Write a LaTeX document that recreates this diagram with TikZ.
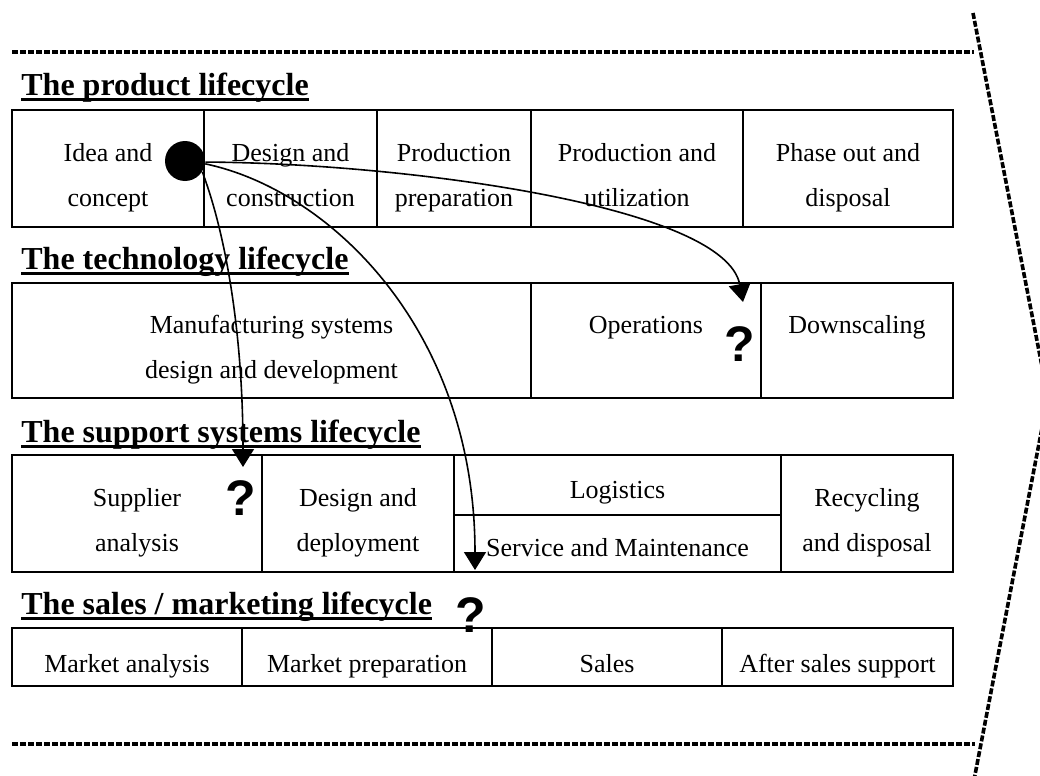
\documentclass[tikz,border=0pt]{standalone}
\usepackage{fontspec}
\setmainfont{Liberation Serif}
\newfontfamily\qfont{Liberation Sans}
\usetikzlibrary{arrows.meta}
\newcommand\cellstrut{\rule[-4.75pt]{0pt}{22.5pt}}
\newcommand\lowstrut{\rule[-4.75pt]{0pt}{24.5pt}}
\newcommand\tallstrut{\rule[-4.75pt]{0pt}{24.5pt}}
\newcommand\twolines[2]{\tallstrut#1\\#2\cellstrut}
\begin{document}
\begin{tikzpicture}[x=0.5pt,y=-0.5pt,
  cell/.style={draw, line width=1pt, rectangle, inner sep=0pt, align=center,
    font=\fontsize{13}{22.5}\selectfont},
  ttl/.style={anchor=base west, inner sep=0pt, font=\fontsize{16}{19}\selectfont\bfseries},
  uline/.style={line width=1.3pt},
  dsh/.style={line width=1.8pt, dash pattern=on 3pt off 1pt},
  conn/.style={line width=0.8pt, -{Triangle[length=9pt,width=11pt]}},
  qm/.style={inner sep=0pt, font=\qfont\bfseries\fontsize{25}{28}\selectfont},
]
\useasboundingbox (0,0) rectangle (1040,776);
% dashed frame
\coordinate (tl) at (12,52);
\coordinate (tr) at (974,52);
\coordinate (bl) at (12,744);
\coordinate (br) at (975,744);
\draw[dsh] (tl) -- (tr);
\draw[dsh] (bl) -- (br);
\begin{scope}
  \clip (0,0) rectangle (1040,776);
  \coordinate (ct) at (973,13);
  \coordinate (ca) at (1048,397);
  \coordinate (cb) at (974,780);
  \draw[dsh] (ct) -- (ca) -- (cb);
\end{scope}

% titles
\node[ttl] (t1) at (21,95) {The product lifecycle};
\node[ttl] (t2) at (21,269) {The technology lifecycle};
\node[ttl] (t3) at (21,442) {The support systems lifecycle};
\node[ttl] (t4) at (21,614) {The sales / marketing lifecycle};
\foreach \t in {t1,t2,t3,t4}{
  \draw[uline] ([yshift=-2.3pt]\t.base west) -- ([yshift=-2.3pt]\t.base east);
}

% row 1
\node[cell, minimum width=96pt,  minimum height=58.5pt] (p1) at (108,168.5)   {\twolines{Idea and}{concept}};
\node[cell, minimum width=86.5pt,minimum height=58.5pt] (p2) at (290.5,168.5) {\twolines{Design and}{construction}};
\node[cell, minimum width=77pt,  minimum height=58.5pt] (p3) at (454,168.5)   {\twolines{Production}{preparation}};
\node[cell, minimum width=106pt, minimum height=58.5pt] (p4) at (637,168.5)   {\twolines{Production and}{utilization}};
\node[cell, minimum width=105pt, minimum height=58.5pt] (p5) at (848,168.5)   {\twolines{Phase out and}{disposal}};

% row 2
\node[cell, minimum width=259.5pt, minimum height=57.5pt] (m1) at (271.5,340.5) {\twolines{Manufacturing systems}{design and development}};
\node[cell, minimum width=115pt,   minimum height=57.5pt] (m2) at (646,340.5)   {\twolines{Operations}{}};
\node[cell, minimum width=96pt,    minimum height=57.5pt] (m3) at (857,340.5)   {\twolines{Downscaling}{}};

% row 3
\node[cell, minimum width=125pt,   minimum height=58.5pt] (s1) at (137,513.5)   {\twolines{Supplier}{analysis}};
\node[cell, minimum width=96pt,    minimum height=58.5pt] (s2) at (358,513.5)   {\twolines{Design and}{deployment}};
\node[cell, minimum width=163.5pt, minimum height=30pt]   (s3) at (617.5,485)   {\cellstrut Logistics};
\node[cell, minimum width=163.5pt, minimum height=28.5pt] (s4) at (617.5,543.5) {\cellstrut Service and Maintenance};
\node[cell, minimum width=86pt,    minimum height=58.5pt] (s5) at (867,513.5)   {\twolines{Recycling}{and disposal}};

% row 4
\node[cell, minimum width=115pt,   minimum height=29pt] (k1) at (127,657)   {\lowstrut Market analysis};
\node[cell, minimum width=125pt,   minimum height=29pt] (k2) at (367,657)   {\lowstrut Market preparation};
\node[cell, minimum width=115pt,   minimum height=29pt] (k3) at (607,657)   {\lowstrut Sales};
\node[cell, minimum width=115.5pt, minimum height=29pt] (k4) at (837.5,657) {\lowstrut After sales support};

% question marks
\node[qm] (q1) at (740,344) {?};
\node[qm] (q2) at (241,498) {?};
\node[qm] (q3) at (471,615) {?};

% dot and arrows
\node[circle, fill, inner sep=0pt, minimum size=20pt] (dot) at (185,161) {};
\coordinate (tipA) at (743,302);
\coordinate (tipB) at (243,467);
\coordinate (tipC) at (475,570);
\draw[conn] (dot.-3) .. controls (400,163) and (725,205) .. (tipA);
\draw[conn] (dot.-32) .. controls (225,232) and (243,330) .. (tipB);
\draw[conn] (dot.-8) .. controls (330,190) and (475,330) .. (tipC);
\end{tikzpicture}
\end{document}
